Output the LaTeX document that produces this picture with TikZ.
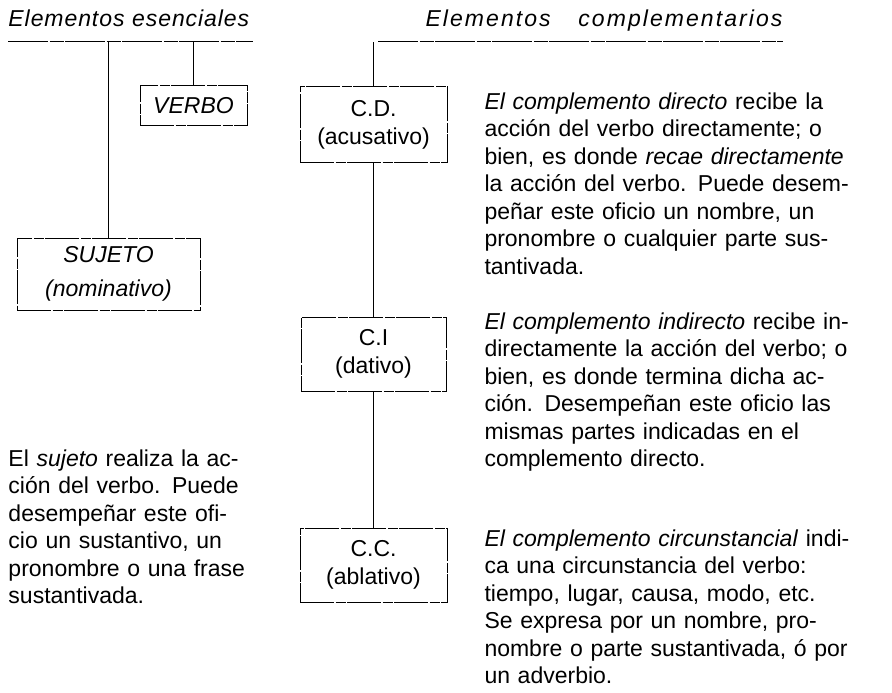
\documentclass[tikz,border=0pt]{standalone}
\usepackage{fontspec}
\setmainfont{Liberation Sans}
\usetikzlibrary{positioning}

\newcommand{\jl}[1]{\makebox[\hsize][s]{#1}}

\begin{document}
\begin{tikzpicture}[x=1pt,y=-1pt,line width=1pt,
	box node/.style={draw,rectangle,inner sep=0pt,align=center,
		dash pattern=on 34pt off 1.5pt on 10pt off 1.5pt,
		font=\fontsize{23}{28}\selectfont},
	par node/.style={anchor=north west,inner sep=0pt,align=left,
		font=\fontsize{23}{27.5}\selectfont},
	title node/.style={anchor=base west,inner sep=0pt,align=left,
		font=\fontsize{23}{27.5}\selectfont\itshape},
	rule/.style={dash pattern=on 40pt off 1.5pt on 14pt off 1.5pt}]

	\useasboundingbox (0,0) rectangle (892,693);

	% titles
	\node[title node, text width=244pt] (tE) at (8,27)
		{\addfontfeatures{LetterSpace=4}Elementos esenciales};
	\node[title node, text width=404pt] (tC) at (378,27)
		{\hspace*{47pt}\addfontfeatures{LetterSpace=9}\makebox[357pt]{Elementos\hfill complementarios}};
	\coordinate (uE) at ([yshift=-15pt]tE.base west);
	\coordinate (uC) at ([yshift=-15pt]tC.base west);
	\draw[rule] (uE) -- (uE -| tE.east);
	\draw[rule] (uC) -- (uC -| tC.east);

	% elementos esenciales
	\node[box node, minimum width=107pt, minimum height=39pt] (verbo) at (193.5,105.5) {\itshape VERBO};
	\node[box node, minimum width=183pt, minimum height=72pt, font=\fontsize{23}{34}\selectfont\itshape]
		(suj) at (108.5,274) {SUJETO\\(nominativo)};

	% elementos complementarios
	\node[box node, minimum width=147pt, minimum height=75pt] (cd) at (373.5,124.5) {C.D.\\(acusativo)};
	\node[box node, minimum width=145pt, minimum height=74pt] (ci) [below=154pt of cd] {C.I\\(dativo)};
	\node[box node, minimum width=147pt, minimum height=74pt] (cc) [below=136pt of ci] {C.C.\\(ablativo)};

	\draw (verbo.north) -- (verbo.north |- uE);
	\draw (suj.north) -- (suj.north |- uE);
	\draw (cd.north) -- (cd.north |- uC);
	\draw (cd) -- (ci);
	\draw (ci) -- (cc);

	% textos
	\node[par node, text width=236pt] (psuj) at (8,449)
		{\jl{El \textit{sujeto} realiza la ac-}\\
		\jl{ción del verbo. Puede}\\
		\jl{desempeñar este ofi-}\\
		\jl{cio un sustantivo, un}\\
		\jl{pronombre o una frase}\\
		sustantivada.};
	\node[par node, text width=398pt] (pcd) at (484,92)
		{\jl{\textit{El complemento directo} recibe la}\\
		\jl{acción del verbo directamente; o}\\
		\jl{bien, es donde \textit{recae directamente}}\\
		\jl{la acción del verbo. Puede desem-}\\
		\jl{peñar este oficio un nombre, un}\\
		\jl{pronombre o cualquier parte sus-}\\
		tantivada.};
	\node[par node, text width=398pt] (pci) at (484,312)
		{\jl{\textit{El complemento indirecto} recibe in-}\\
		\jl{directamente la acción del verbo; o}\\
		\jl{bien, es donde termina dicha ac-}\\
		\jl{ción. Desempeñan este oficio las}\\
		\jl{mismas partes indicadas en el}\\
		complemento directo.};
	\node[par node, text width=398pt] (pcc) at (484,529)
		{\jl{\textit{El complemento circunstancial} indi-}\\
		\jl{ca una circunstancia del verbo:}\\
		\jl{tiempo, lugar, causa, modo, etc.}\\
		\jl{Se expresa por un nombre, pro-}\\
		\jl{nombre o parte sustantivada, ó por}\\
		un adverbio.};
\end{tikzpicture}
\end{document}
